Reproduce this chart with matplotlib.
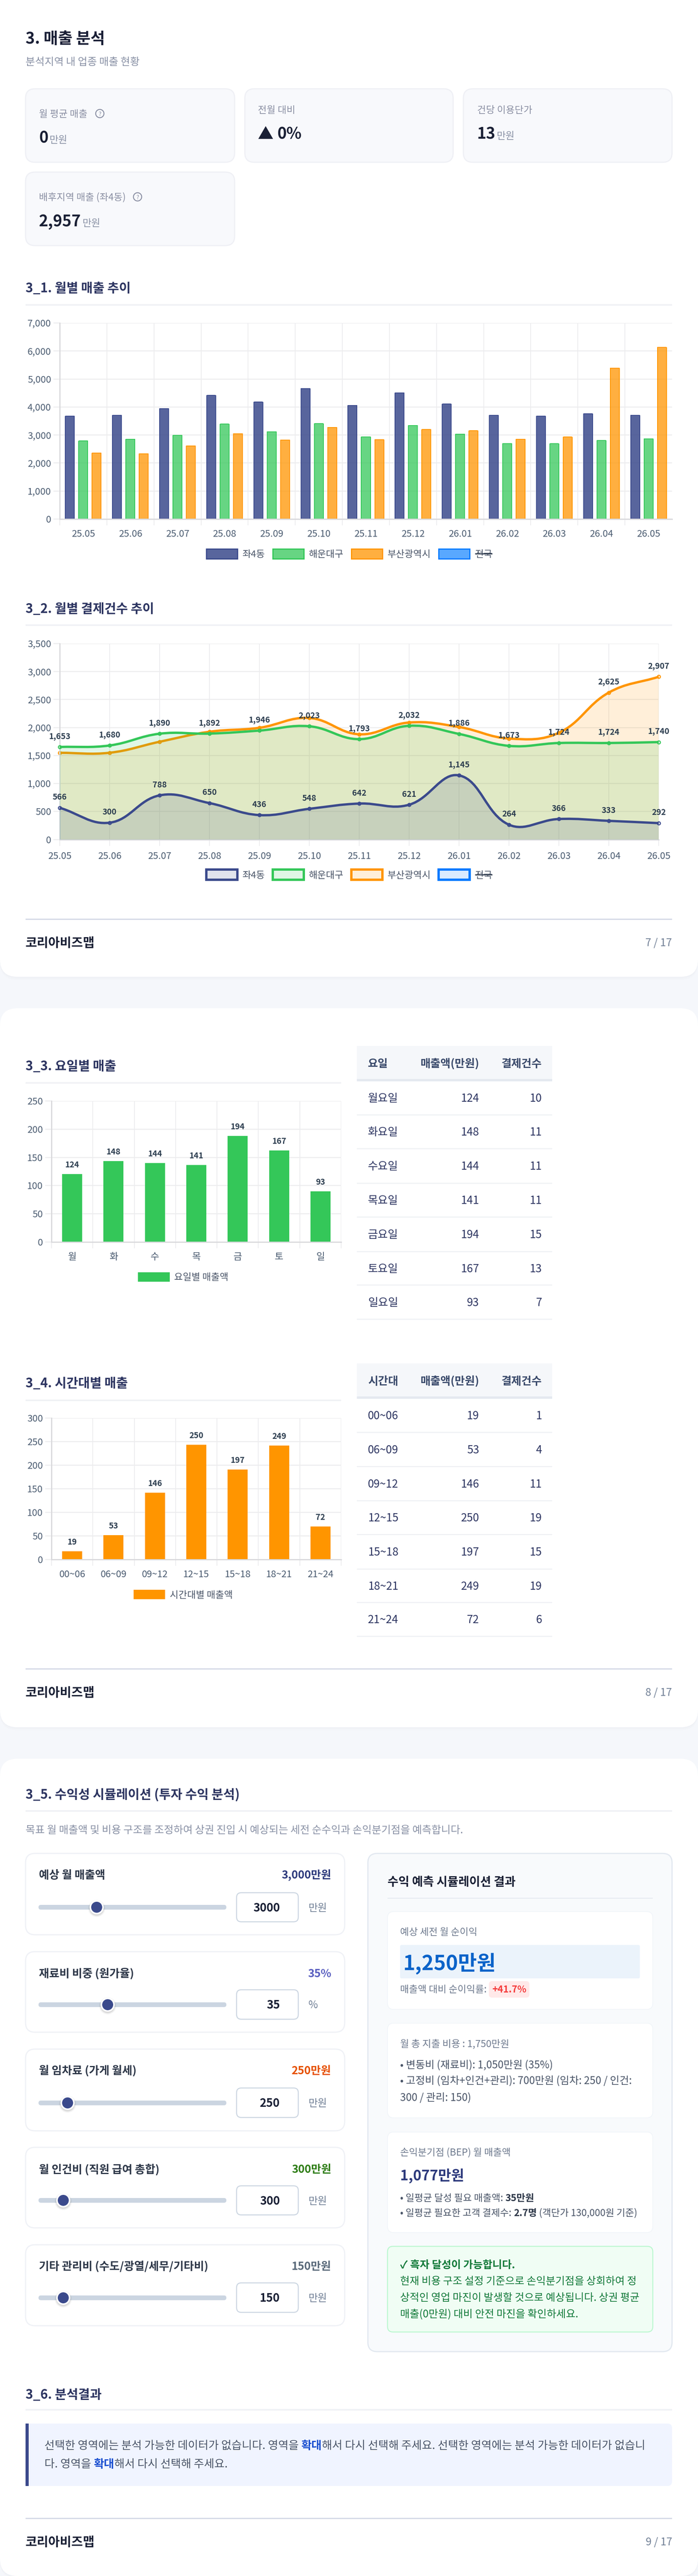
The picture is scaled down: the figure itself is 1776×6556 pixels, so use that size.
import numpy as np
import matplotlib
matplotlib.use("Agg")
import matplotlib.pyplot as plt
from matplotlib.patches import FancyBboxPatch, PathPatch, Rectangle, Circle
from matplotlib.path import Path
from matplotlib.font_manager import FontProperties

plt.rcParams['font.family'] = ['Noto Sans CJK KR', 'DejaVu Sans']
plt.rcParams['axes.unicode_minus'] = False

# ---------- data ----------
months = ['25.05', '25.06', '25.07', '25.08', '25.09', '25.10', '25.11', '25.12', '26.01', '26.02', '26.03', '26.04', '26.05']
region_names = ['좌4동', '해운대구', '부산광역시', '전국']
sales_dong = [3673, 3704, 3943, 4412, 4174, 4660, 4059, 4505, 4104, 3704, 3673, 3757, 3704]
sales_gu = [2788, 2849, 2988, 3388, 3119, 3404, 2934, 3342, 3034, 2695, 2687, 2803, 2865]
sales_city = [2356, 2333, 2611, 3049, 2826, 3273, 2834, 3196, 3150, 2849, 2926, 5390, 6130]

count_dong = [566, 300, 788, 650, 436, 548, 642, 621, 1145, 264, 366, 333, 292]
count_gu = [1653, 1680, 1890, 1892, 1946, 2023, 1793, 2032, 1886, 1673, 1724, 1724, 1740]
count_city = [1549, 1550, 1746, 1925, 1996, 2171, 1880, 2090, 2010, 1804, 1907, 2625, 2907]
city_labelled_months = ['26.04', '26.05']

day_short = ['월', '화', '수', '목', '금', '토', '일']
day_full = ['월요일', '화요일', '수요일', '목요일', '금요일', '토요일', '일요일']
day_sales = [124, 148, 144, 141, 194, 167, 93]
day_bar_height = [120.3, 143.4, 139.9, 136.8, 188, 162, 90]
day_count = [10, 11, 11, 11, 15, 13, 7]

time_slots = ['00~06', '06~09', '09~12', '12~15', '15~18', '18~21', '21~24']
time_sales = [19, 53, 146, 250, 197, 249, 72]
time_bar_height = [17.9, 51.6, 141.8, 243, 190.8, 241.3, 69.6]
time_count = [1, 4, 11, 19, 15, 19, 6]

slider_labels = ['예상 월 매출액', '재료비 비중 (원가율)', '월 임차료 (가게 월세)', '월 인건비 (직원 급여 총합)', '기타 관리비 (수도/광열/세무/기타비)']
slider_values = ['3,000만원', '35%', '250만원', '300만원', '150만원']
slider_inputs = ['3000', '35', '250', '300', '150']
slider_units = ['만원', '%', '만원', '만원', '만원']

# ---------- canvas ----------
W, H = 1776, 6556
DPI = 100
PT = 72 / DPI
fig = plt.figure(figsize=(W / DPI, H / DPI), dpi=DPI, facecolor='#f5f7fb')
ui = fig.add_axes([0, 0, 1, 1], zorder=0)
ui.set_xlim(0, W)
ui.set_ylim(H, 0)
ui.axis('off')
renderer = fig.canvas.get_renderer()

NAVY = '#3b4a8c'
GREEN = '#34c759'
ORANGE = '#ff9500'
BLUE = '#007aff'
TICK = '#4a5b70'
GRID = '#ececee'
AXIS = '#d9d9dc'


def T(x, y, s, size, color='#1a2035', weight='normal', ha='left', baseline=None, z=5):
    by = y + 0.37 * size if baseline is None else baseline
    return ui.text(x, by, s, fontsize=size * PT, color=color, weight=weight, ha=ha, va='baseline', zorder=z)


def box(x0, y0, x1, y1, r, fc, ec='none', lw=0, z=1):
    p = FancyBboxPatch((x0, y0), x1 - x0, y1 - y0, boxstyle=f'round,pad=0,rounding_size={r}',
                       fc=fc, ec=ec, lw=lw * PT, zorder=z)
    ui.add_patch(p)
    return p


def rect(x0, y0, x1, y1, fc, z=2):
    ui.add_patch(Rectangle((x0, y0), x1 - x0, y1 - y0, fc=fc, ec='none', zorder=z))


def seg_width(s, size, weight):
    fp = FontProperties(family=['Noto Sans CJK KR', 'DejaVu Sans'], size=size * PT, weight=weight)
    w1 = renderer.get_text_width_height_descent('|' + s + '|', fp, False)[0]
    w0 = renderer.get_text_width_height_descent('||', fp, False)[0]
    return w1 - w0


def inline(x, y, segs, size):
    for s, color, weight in segs:
        T(x, y, s, size, color, weight)
        x += seg_width(s, size, weight)
    return x


def white_card(y0, y1):
    for off, a in ((8, .006), (5, .008), (2, .012)):
        box(0, y0, W, y1 + off, 44, (0.1, 0.15, 0.3, a), z=0.5)
    box(0, y0, W, y1, 44, '#ffffff', z=0.6)


def section(y_title, y_line, s, x1=1710):
    T(65, y_title, s, 32.4, '#2d3561', 'bold')
    rect(65, y_line - 2, x1, y_line + 2, '#f0f1f5')


def footer(y_line, y_text, page):
    rect(65, y_line - 1.5, 1710, y_line + 1.5, '#d3d8e6')
    T(65, y_text, '코리아비즈맵', 32, '#1a2035', 'bold')
    T(1710, y_text, page, 27, '#718096', ha='right')


def stat_card(x0, y0, x1, y1):
    box(x0, y0, x1, y1, 24, '#f8f9fc', '#eff0f5', 3)


def help_icon(cx, cy):
    ui.add_patch(Circle((cx, cy), 10.5, fc='none', ec='#8a8fa3', lw=2.4 * PT, zorder=5))
    T(cx, cy, '?', 15, '#8a8fa3', ha='center')


def axes_px(x0, y0, x1, y1):
    a = fig.add_axes([x0 / W, 1 - y1 / H, (x1 - x0) / W, (y1 - y0) / H], zorder=2)
    a.patch.set_alpha(0)
    return a


def style_axes(a, ylim, yticks, edge_ticks):
    a.set_ylim(*ylim)
    a.set_yticks(yticks)
    a.set_yticklabels([f'{v:,}' for v in yticks])
    a.tick_params(axis='y', length=16 * PT, width=2.5 * PT, color=GRID, pad=6 * PT,
                  labelsize=24 * PT, labelcolor=TICK)
    a.grid(True, axis='y', color=GRID, lw=2.5 * PT)
    a.grid(True, axis='x', color=GRID, lw=2 * PT)
    a.set_axisbelow(True)
    for s in ('top', 'right'):
        a.spines[s].set_visible(False)
    for s in ('left', 'bottom'):
        a.spines[s].set_color(AXIS)
        a.spines[s].set_linewidth(3 * PT)


def style_category_x(a, labels, draw_last=True):
    n = len(labels)
    a.set_xlim(-0.5, n - 0.5)
    edges = np.arange(n + (1 if draw_last else 0)) - 0.5
    a.set_xticks(edges)
    a.set_xticklabels([])
    a.set_xticks(np.arange(n), minor=True)
    a.set_xticklabels(labels, minor=True)
    a.tick_params(axis='x', which='major', length=16 * PT, width=2 * PT, color=GRID)
    a.tick_params(axis='x', which='minor', length=0, pad=27 * PT,
                  labelsize=24 * PT, labelcolor=TICK)


def legend_swatch(x0, y0, x1, y1, fc, ec, lw):
    ui.add_patch(Rectangle((x0, y0), x1 - x0, y1 - y0, fc=fc, ec=ec, lw=lw * PT, zorder=5))


LEG_BOX = [(525, 604), (694, 773), (894, 973), (1116, 1195)]
LEG_TEXT = [616, 786, 986, 1209]


def region_legend(yc, h, fills, lw):
    cols = [NAVY, GREEN, ORANGE, BLUE]
    for i, nm in enumerate(region_names):
        legend_swatch(LEG_BOX[i][0], yc - h / 2, LEG_BOX[i][1], yc + h / 2, fills[i], cols[i], lw)
        T(LEG_TEXT[i], yc, nm, 24, '#4a5568')
    w = seg_width(region_names[3], 24, 'normal')
    rect(LEG_TEXT[3], yc - 1.5, LEG_TEXT[3] + w, yc + 1.5, '#3a4658', z=6)


# ---------- page cards ----------
white_card(-60, 2486)
white_card(2566, 4396)
white_card(4476, 6556)

# ---------- header ----------
T(65, 96, '3. 매출 분석', 40, '#1a1f36', 'bold')
T(65, 156, '분석지역 내 업종 매출 현황', 26.4, '#8a92a6')

stat_card(65, 226, 597, 413)
stat_card(623, 226, 1153, 413)
stat_card(1179, 226, 1710, 413)
stat_card(65, 438, 597, 625)

T(99, 289, '월 평균 매출', 24.4, '#8a8fa3')
help_icon(254, 289)
T(99, 349, '0', 40, '#1a2035', 'bold')
T(126, 0, '만원', 25, '#8a92a6', baseline=349 + .37 * 40)

T(656, 279, '전월 대비', 24.4, '#8a8fa3')
T(656, 339, '▲', 40, '#1a2035', 'bold')
T(705, 339, '0%', 40, '#1a2035', 'bold')

T(1214, 279, '건당 이용단가', 24.4, '#8a8fa3')
T(1214, 339, '13', 40, '#1a2035', 'bold')
T(1264, 0, '만원', 25, '#8a92a6', baseline=339 + .37 * 40)

T(99, 501, '배후지역 매출 (좌4동)', 24.4, '#8a8fa3')
help_icon(350, 501)
T(99, 561, '2,957', 40, '#1a2035', 'bold')
T(210, 0, '만원', 25, '#8a92a6', baseline=561 + .37 * 40)

# ---------- 3_1 ----------
section(732, 776, '3_1. 월별 매출 추이')
ax1 = axes_px(152, 822, 1710, 1321)
style_axes(ax1, (0, 7000), list(range(0, 7001, 1000)), False)
style_category_x(ax1, months, draw_last=False)
BW = 23 / 119.8
STEP = 34 / 119.8
xs = np.arange(len(months))
ax_h_px = 1321 - 822
for off, vals, c in ((-STEP, sales_dong, NAVY), (0, sales_gu, GREEN), (STEP, sales_city, ORANGE)):
    a_fill = .85 if c == NAVY else .75
    bars = ax1.bar(xs + off, vals, BW, color=matplotlib.colors.to_rgba(c, a_fill), edgecolor=c, linewidth=2 * PT)
    rx = 5 / 119.8
    ry = 5 / ax_h_px * 7000
    for b in bars:
        l, r, t = b.get_x() - .02, b.get_x() + b.get_width() + .02, b.get_height() + 20
        clip = Path([(l, -50), (l, t - ry), (l, t), (l + rx, t), (r - rx, t), (r, t), (r, t - ry), (r, -50), (l, -50)],
                    [Path.MOVETO, Path.LINETO, Path.CURVE3, Path.CURVE3, Path.LINETO, Path.CURVE3, Path.CURVE3, Path.LINETO, Path.CLOSEPOLY])
        b.set_clip_path(clip, ax1.transData)
region_legend(1409, 25, [matplotlib.colors.to_rgba(NAVY, .85), matplotlib.colors.to_rgba(GREEN, .75),
                         matplotlib.colors.to_rgba(ORANGE, .75), matplotlib.colors.to_rgba(BLUE, .65)], 3)

# ---------- 3_2 ----------
section(1548, 1591, '3_2. 월별 결제건수 추이')
ax2 = axes_px(152, 1638, 1676, 2136.5)
style_axes(ax2, (0, 3500), list(range(0, 3501, 500)), True)
ax2.set_xlim(0, 12)
ax2.set_xticks(range(13))
ax2.set_xticklabels(months)
ax2.tick_params(axis='x', length=16 * PT, width=2 * PT, color=GRID, pad=15 * PT, labelsize=24 * PT, labelcolor=TICK)
sx = (1676 - 152) / 12
sy = (2136.5 - 1638) / 3500


def smooth_path(vals, tension=0.4):
    n = len(vals)
    xv = np.arange(n, dtype=float)
    yv = np.array(vals, dtype=float)
    verts = [(xv[0], yv[0])]
    codes = [Path.MOVETO]
    nxt = [None] * n
    prv = [None] * n
    for i in range(n):
        a = max(i - 1, 0)
        c = min(i + 1, n - 1)
        d01 = np.hypot((xv[i] - xv[a]) * sx, (yv[i] - yv[a]) * sy)
        d12 = np.hypot((xv[c] - xv[i]) * sx, (yv[c] - yv[i]) * sy)
        s = d01 / (d01 + d12)
        fa, fb = tension * s, tension * (1 - s)
        dx, dy = xv[c] - xv[a], yv[c] - yv[a]
        prv[i] = (xv[i] - fa * dx, yv[i] - fa * dy)
        nxt[i] = (xv[i] + fb * dx, yv[i] + fb * dy)
    for i in range(n - 1):
        verts += [nxt[i], prv[i + 1], (xv[i + 1], yv[i + 1])]
        codes += [Path.CURVE4] * 3
    return verts, codes


def draw_series(a, vals, color, z):
    verts, codes = smooth_path(vals)
    fv = verts + [(len(vals) - 1, 0), (0, 0), verts[0]]
    fc = codes + [Path.LINETO, Path.LINETO, Path.CLOSEPOLY]
    a.add_patch(PathPatch(Path(fv, fc), fc=matplotlib.colors.to_rgba(color, .15), ec='none', zorder=z))
    a.add_patch(PathPatch(Path(verts, codes), fc='none', ec=color, lw=6 * PT, capstyle='butt',
                          joinstyle='round', zorder=z + .1, clip_on=False))
    a.plot(range(len(vals)), vals, ls='none', marker='o', ms=8 * PT, mew=2.4 * PT, mec=color,
           mfc=matplotlib.colors.to_rgba(color, .15), zorder=z + .2, clip_on=False)


draw_series(ax2, count_city, ORANGE, 2)
draw_series(ax2, count_gu, GREEN, 3)
draw_series(ax2, count_dong, NAVY, 4)


def point_labels(a, idx, vals, off_px):
    for i, v in zip(idx, vals):
        a.annotate(f'{v:,}', (i, v), xytext=(0, off_px * PT), textcoords='offset points', ha='center', va='center',
                   fontsize=20.5 * PT, weight='bold', color='#2d3e50', zorder=8, annotation_clip=False)


point_labels(ax2, range(13), count_dong, 27)
point_labels(ax2, range(13), count_gu, 27)
point_labels(ax2, [months.index(m) for m in city_labelled_months],
             [count_city[months.index(m)] for m in city_labelled_months], 27)
region_legend(2226, 26, [matplotlib.colors.to_rgba(c, .15) for c in (NAVY, GREEN, ORANGE, BLUE)], 6)
footer(2339, 2398, '7 / 17')


# ---------- 3_3 / 3_4 ----------
def simple_bar(box_px, ymax, step, labels, heights, shown, color):
    a = axes_px(*box_px)
    ticks = list(range(0, ymax + 1, step))
    style_axes(a, (0, ymax), ticks, True)
    style_category_x(a, labels)
    xv = np.arange(len(labels))
    a.bar(xv, heights, 0.484, color=color, linewidth=0)
    for x, h, s in zip(xv, heights, shown):
        a.annotate(str(s), (x, h), xytext=(0, 23.5 * PT), textcoords='offset points', ha='center', va='center',
                   fontsize=20.5 * PT, weight='bold', color='#2d3e50')
    return a


def side_table(y_head0, y_head1, head0, rows0, col2, col3, row_lines):
    rect(908, y_head0, 1405, y_head1 - 4, '#f5f7fa')
    rect(908, y_head1 - 4, 1405, y_head1 + 2, '#e4e9f0')
    yh = (y_head0 + y_head1) / 2
    HC = '#3a4a6b'
    T(936, yh, head0, 28, HC, 'bold')
    T(1219, yh, '매출액(만원)', 28, HC, 'bold', ha='right')
    T(1379, yh, '결제건수', 28, HC, 'bold', ha='right')
    prev = y_head1
    BC = '#2d3561'
    for r0, c2, c3, yl in zip(rows0, col2, col3, row_lines):
        yc = (prev + yl) / 2
        T(936, yc, r0, 28, BC)
        T(1219, yc, str(c2), 28, BC, ha='right')
        T(1379, yc, str(c3), 28, BC, ha='right')
        rect(908, yl - 1.5, 1405, yl + 1.5, '#f0f2f5')
        prev = yl


section(2712, 2756, '3_3. 요일별 매출', x1=868)
simple_bar((131, 2802, 868, 3161), 250, 50, day_short, day_bar_height, day_sales, GREEN)
legend_swatch(351, 3238, 432, 3262, GREEN, 'none', 0)
T(443, 3249, '요일별 매출액', 24, '#4a5568')
side_table(2662, 2750, '요일', day_full, day_sales, day_count, [2837, 2923, 3011, 3097, 3185, 3270, 3357])

section(3519, 3564, '3_4. 시간대별 매출', x1=868)
simple_bar((131, 3609, 868, 3969), 300, 50, time_slots, time_bar_height, time_sales, ORANGE)
legend_swatch(340, 4046, 420, 4070, ORANGE, 'none', 0)
T(432, 4058, '시간대별 매출액', 24, '#4a5568')
side_table(3470, 3558, '시간대', time_slots, time_sales, time_count, [3645, 3732, 3819, 3905, 3993, 4078, 4164])
footer(4247, 4306, '8 / 17')

# ---------- 3_5 ----------
section(4566, 4609, '3_5. 수익성 시뮬레이션 (투자 수익 분석)')
T(65, 4656, '목표 월 매출액 및 비용 구조를 조정하여 상권 진입 시 예상되는 세전 순수익과 손익분기점을 예측합니다.', 26.5, '#8a92a6')

card_tops = [4717, 4967, 5215, 5465, 5713]
card_bots = [4924, 5172, 5423, 5670, 5919]
label_ys = [4771, 5022, 5269, 5520, 5767]
track_ys = [4854, 5102, 5352, 5600, 5848]
input_tops = [4817, 5064, 5314, 5563, 5810]
input_bots = [4891, 5139, 5389, 5637, 5885]
thumb_xs = [246, 274, 172, 161, 161]
value_cols = ['#2d3a7c', '#5a5fc0', '#e65100', '#2e7d16', '#5a6a7a']
for i in range(5):
    box(65, card_tops[i], 877, card_bots[i], 24, '#ffffff', '#eff1f6', 3)
    T(99, label_ys[i], slider_labels[i], 28.3, '#2d3748', 'bold')
    T(843, label_ys[i], slider_values[i], 28, value_cols[i], 'bold', ha='right')
    box(98, track_ys[i] - 6, 576, track_ys[i] + 6, 6, '#cbd5e1', z=2)
    for off, a_ in ((7, .03), (5, .05), (3, .07)):
        ui.add_patch(Circle((thumb_xs[i], track_ys[i] + 3), 18 + off - 3, fc=(0, 0, 0, a_), ec='none', zorder=3))
    ui.add_patch(Circle((thumb_xs[i], track_ys[i]), 16, fc=NAVY, ec='white', lw=4 * PT, zorder=4))
    box(602, input_tops[i], 759, input_bots[i], 12, '#ffffff', '#cbd5e1', 2.5)
    T(712, (input_tops[i] + input_bots[i]) / 2, slider_inputs[i], 29, '#1a2035', 'bold', ha='right')
    T(785, (input_tops[i] + input_bots[i]) / 2, slider_units[i], 26, '#718096')

box(936, 4717, 1710, 5985, 24, '#f8fafc', '#e2e8f0', 3)
T(986, 4788, '수익 예측 시뮬레이션 결과', 30.2, '#1a2035', 'bold')
rect(986, 4830, 1661, 4832, '#e2e8f0')

GR = '#6f7b8f'
box(986, 4865, 1661, 5114, 16, '#ffffff', '#f1f5f9', 2)
T(1018, 4916, '예상 세전 월 순이익', 24.5, GR)
box(1018, 4950, 1628, 5035, 4, '#ebf3fb', z=2)
T(1026, 4994, '1,250만원', 52.3, '#0b63c9', 'bold')
T(1018, 5062, '매출액 대비 순이익률:', 24.4, GR)
box(1244, 5042, 1347, 5084, 8, '#ffe9e9', z=2)
T(1252, 5062, '+41.7%', 24, '#f53b3b', 'bold')

box(986, 5149, 1661, 5390, 16, '#ffffff', '#f1f5f9', 2)
T(1018, 5201, '월 총 지출 비용 : 1,750만원', 24.7, GR)
T(1018, 5254, '• 변동비 (재료비): 1,050만원 (35%)', 26.4, '#4a5568')
T(1018, 5294, '• 고정비 (임차+인건+관리): 700만원 (임차: 250 / 인건:', 26.4, '#4a5568')
T(1018, 5337, '300 / 관리: 150)', 26.4, '#4a5568')

box(986, 5426, 1661, 5682, 16, '#ffffff', '#f1f5f9', 2)
T(1018, 5477, '손익분기점 (BEP) 월 매출액', 24.4, GR)
T(1018, 5536, '1,077만원', 36, '#2d3a7c', 'bold')
inline(1018, 5593, [('• 일평균 달성 필요 매출액: ', '#4a5568', 'normal'), ('35만원', '#2d3748', 'bold')], 24.4)
inline(1018, 5631, [('• 일평균 필요한 고객 결제수: ', '#4a5568', 'normal'), ('2.7명', '#2d3748', 'bold'),
                    (' (객단가 130,000원 기준)', '#4a5568', 'normal')], 24.3)

box(986, 5717, 1661, 5935, 14, '#f0fdf4', '#bbf7d0', 2.5)
T(1018, 5763, '✓ 흑자 달성이 가능합니다.', 26.8, '#137a3a', 'bold')
T(1018, 5804, '현재 비용 구조 설정 기준으로 손익분기점을 상회하여 정', 26.5, '#137a3a')
T(1018, 5846, '상적인 영업 마진이 발생할 것으로 예상됩니다. 상권 평균', 26.5, '#137a3a')
T(1018, 5888, '매출(0만원) 대비 안전 마진을 확인하세요.', 26.5, '#137a3a')

# ---------- 3_6 ----------
section(6093, 6133, '3_6. 분석결과')
box(65, 6168, 1710, 6327, 12, '#f0f4ff', z=1.5)
rect(65, 6168, 73, 6327, NAVY)
BODY = '#4a5568'
HL = '#1a4fd0'
inline(113, 6222, [('선택한 영역에는 분석 가능한 데이터가 없습니다. 영역을 ', BODY, 'normal'), ('확대', HL, 'bold'),
                   ('해서 다시 선택해 주세요. 선택한 영역에는 분석 가능한 데이터가 없습니', BODY, 'normal')], 28.4)
inline(113, 6269, [('다. 영역을 ', BODY, 'normal'), ('확대', HL, 'bold'), ('해서 다시 선택해 주세요.', BODY, 'normal')], 28.4)
footer(6409, 6468, '9 / 17')

fig.savefig('out.png', dpi=DPI, facecolor=fig.get_facecolor())
